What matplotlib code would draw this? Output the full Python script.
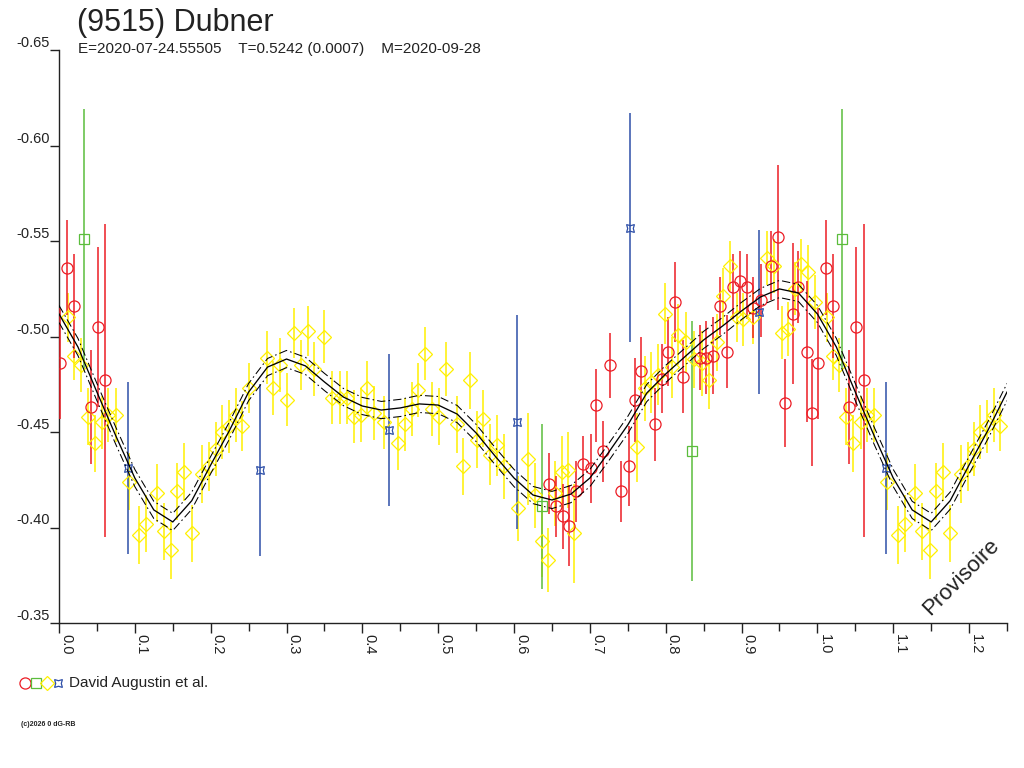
import matplotlib
matplotlib.use("Agg")
import matplotlib.pyplot as plt
import numpy as np

plt.rcParams['font.family'] = ['Liberation Sans', 'DejaVu Sans']

# light curve data, phase / magnitude / error
red_phase = [0.001, 0.011, 0.020, 0.042, 0.051, 0.061, 0.646, 0.655, 0.665, 0.673,
             0.682, 0.691, 0.702, 0.708, 0.717, 0.727, 0.741, 0.752, 0.760, 0.768,
             0.786, 0.795, 0.803, 0.812, 0.823, 0.845, 0.853, 0.862, 0.872, 0.881,
             0.889, 0.898, 0.907, 0.915, 0.926, 0.939, 0.948, 0.957, 0.968, 0.975,
             0.986, 0.993]
red_mag = [-0.486, -0.536, -0.516, -0.463, -0.505, -0.477, -0.423, -0.411, -0.406, -0.401,
           -0.419, -0.433, -0.431, -0.464, -0.440, -0.485, -0.419, -0.432, -0.467, -0.482,
           -0.454, -0.478, -0.492, -0.518, -0.479, -0.489, -0.489, -0.490, -0.516, -0.492,
           -0.526, -0.529, -0.526, -0.515, -0.519, -0.537, -0.552, -0.465, -0.512, -0.526,
           -0.492, -0.460]
red_err = [0.029, 0.025, 0.027, 0.030, 0.042, 0.082, 0.016, 0.016, 0.017, 0.021,
           0.016, 0.015, 0.018, 0.019, 0.016, 0.017, 0.016, 0.021, 0.022, 0.018,
           0.019, 0.018, 0.018, 0.021, 0.019, 0.017, 0.019, 0.020, 0.015, 0.019,
           0.017, 0.016, 0.017, 0.016, 0.019, 0.018, 0.038, 0.023, 0.037, 0.019,
           0.037, 0.028]

yellow_phase = [0.012, 0.020, 0.029, 0.038, 0.047, 0.057, 0.065, 0.075, 0.092, 0.106,
                0.115, 0.129, 0.138, 0.148, 0.156, 0.165, 0.175, 0.189, 0.198, 0.207,
                0.215, 0.224, 0.233, 0.241, 0.251, 0.274, 0.282, 0.291, 0.301, 0.310,
                0.319, 0.328, 0.336, 0.349, 0.360, 0.371, 0.380, 0.389, 0.398, 0.406,
                0.415, 0.429, 0.447, 0.456, 0.466, 0.473, 0.483, 0.492, 0.501, 0.510,
                0.525, 0.533, 0.542, 0.551, 0.559, 0.568, 0.578, 0.587, 0.605, 0.618,
                0.628, 0.637, 0.645, 0.654, 0.663, 0.671, 0.679, 0.762, 0.773, 0.781,
                0.790, 0.799, 0.808, 0.816, 0.827, 0.837, 0.848, 0.857, 0.868, 0.876,
                0.885, 0.894, 0.902, 0.915, 0.934, 0.943, 0.953, 0.961, 0.971, 0.979,
                0.988, 0.997]
yellow_mag = [-0.510, -0.490, -0.485, -0.458, -0.444, -0.455, -0.459, -0.459, -0.424, -0.396,
              -0.402, -0.418, -0.398, -0.388, -0.419, -0.429, -0.397, -0.428, -0.432, -0.441,
              -0.450, -0.453, -0.459, -0.453, -0.473, -0.489, -0.473, -0.485, -0.467, -0.502,
              -0.485, -0.503, -0.483, -0.500, -0.468, -0.468, -0.468, -0.458, -0.459, -0.473,
              -0.460, -0.455, -0.444, -0.454, -0.462, -0.472, -0.491, -0.462, -0.458, -0.483,
              -0.454, -0.432, -0.477, -0.446, -0.457, -0.438, -0.443, -0.432, -0.410, -0.436,
              -0.417, -0.393, -0.383, -0.418, -0.429, -0.430, -0.397, -0.442, -0.473, -0.476,
              -0.480, -0.512, -0.484, -0.501, -0.497, -0.488, -0.486, -0.477, -0.497, -0.521,
              -0.537, -0.510, -0.509, -0.510, -0.541, -0.537, -0.502, -0.504, -0.525, -0.538,
              -0.534, -0.518]
yellow_err = [0.013, 0.013, 0.014, 0.015, 0.015, 0.014, 0.014, 0.014, 0.015, 0.015,
              0.015, 0.015, 0.015, 0.015, 0.015, 0.015, 0.015, 0.015, 0.013, 0.014,
              0.014, 0.014, 0.014, 0.013, 0.013, 0.014, 0.014, 0.014, 0.014, 0.013,
              0.013, 0.013, 0.014, 0.014, 0.014, 0.014, 0.014, 0.014, 0.014, 0.014,
              0.014, 0.014, 0.014, 0.014, 0.014, 0.014, 0.014, 0.014, 0.015, 0.014,
              0.015, 0.015, 0.015, 0.015, 0.015, 0.016, 0.016, 0.017, 0.017, 0.024,
              0.017, 0.019, 0.017, 0.017, 0.019, 0.020, 0.026, 0.018, 0.017, 0.016,
              0.016, 0.016, 0.016, 0.016, 0.016, 0.015, 0.017, 0.015, 0.015, 0.015,
              0.013, 0.013, 0.014, 0.014, 0.014, 0.014, 0.014, 0.014, 0.014, 0.013,
              0.014, 0.014]

green_phase = [0.033, 0.637, 0.835]
green_mag = [-0.551, -0.411, -0.440]
green_err = [0.068, 0.043, 0.068]

blue_phase = [0.091, 0.265, 0.435, 0.604, 0.753, 0.923]
blue_mag = [-0.431, -0.430, -0.451, -0.455, -0.557, -0.513]
blue_err = [0.045, 0.045, 0.040, 0.056, 0.060, 0.043]

# fitted light curve, sampled every 0.025 in phase from 0 to 1
curve_mag = [-0.5118, -0.4945, -0.4709, -0.4479, -0.4259, -0.4092, -0.4029, -0.4140,
             -0.4327, -0.4510, -0.4709, -0.4840, -0.4882, -0.4846, -0.4762, -0.4683,
             -0.4636, -0.4615, -0.4626, -0.4647, -0.4641, -0.4594, -0.4495, -0.4374,
             -0.4259, -0.4170, -0.4144, -0.4175, -0.4259, -0.4395, -0.4537, -0.4704,
             -0.4804, -0.4893, -0.4982, -0.5055, -0.5134, -0.5207, -0.5249, -0.5228,
             -0.5118]
curve_band = 0.0045

x_ticks = [0.0, 0.1, 0.2, 0.3, 0.4, 0.5, 0.6, 0.7, 0.8, 0.9, 1.0, 1.1, 1.2]
y_ticks = [-0.65, -0.60, -0.55, -0.50, -0.45, -0.40, -0.35]

title = "(9515) Dubner"
subtitle = "E=2020-07-24.55505    T=0.5242 (0.0007)    M=2020-09-28"
observer = "David Augustin et al."

RED = '#ec1c24'
GREEN = '#5bbd3c'
YELLOW = '#fff000'
BLUE = '#2e4fa8'
INK = '#222222'


def wrap(phase, mag, err):
    # repeat the first quarter of the cycle after phase 1.0
    p = np.asarray(phase)
    m = np.asarray(mag)
    e = np.asarray(err)
    sel = p < 0.25
    return (np.concatenate([p, p[sel] + 1.0]),
            np.concatenate([m, m[sel]]),
            np.concatenate([e, e[sel]]))


fig = plt.figure(figsize=(10.24, 7.68), dpi=100)
ax = fig.add_axes([59 / 1024, 1 - 623 / 768, 948 / 1024, 573 / 768])

# curve
cm = np.asarray(curve_mag)
cp = np.linspace(0, 1, len(cm))
extra = cp[1:] <= 0.25
cp = np.concatenate([cp, cp[1:][extra] + 1.0])
cm = np.concatenate([cm, cm[1:][extra]])
ax.plot(cp, cm, color='black', lw=0.95, zorder=5)
ax.plot(cp, cm - curve_band, color='black', lw=0.75, ls=(0, (8, 3, 1.5, 3)), zorder=5)
ax.plot(cp, cm + curve_band, color='black', lw=0.75, ls=(0, (8, 3, 1.5, 3)), zorder=5)

series = [
    (yellow_phase, yellow_mag, yellow_err, YELLOW, 'D', 6.8),
    (red_phase, red_mag, red_err, RED, 'o', 8.0),
    (green_phase, green_mag, green_err, GREEN, 's', 6.5),
    (blue_phase, blue_mag, blue_err, BLUE, (4, 1, 45), 8.0),
]
for ph, mg, er, col, mk, ms in series:
    p, m, e = wrap(ph, mg, er)
    ax.errorbar(p, m, yerr=e, fmt='none', ecolor=col, elinewidth=1.1, capsize=0, zorder=3)
    ax.plot(p, m, ls='none', marker=mk, ms=ms, mfc='none', mec=col, mew=0.9, zorder=4)

ax.set_xlim(0, 1.25)
ax.set_ylim(-0.35, -0.65)

for s in ['top', 'right']:
    ax.spines[s].set_visible(False)
for s in ['left', 'bottom']:
    ax.spines[s].set_color(INK)
    ax.spines[s].set_linewidth(1.0)

ax.set_yticks(y_ticks)
ax.set_yticklabels(['%.2f' % v for v in y_ticks], fontsize=10.5, color=INK)
for t in ax.get_yticklabels():
    t.set_verticalalignment('bottom')
ax.tick_params(axis='y', direction='out', length=6.5, width=1.0, pad=0, color=INK)

ax.set_xticks(x_ticks)
ax.set_xticks(np.asarray(x_ticks) + 0.05, minor=True)
ax.set_xticklabels(['%.1f' % v for v in x_ticks], rotation=-90, ha='left', va='top',
                   fontsize=10.5, color=INK)
ax.tick_params(axis='x', which='major', direction='out', length=7, width=1.0, pad=1, color=INK)
ax.tick_params(axis='x', which='minor', direction='out', length=6, width=1.0, color=INK)

# titles
fig.text(77 / 1024, 1 - 31 / 768, title, fontsize=22, color=INK, va='baseline')
fig.text(78 / 1024, 1 - 53 / 768, subtitle, fontsize=11, color=INK, va='baseline')

# legend line at the bottom, drawn in pixel coordinates
lax = fig.add_axes([0, 0, 1, 1])
lax.set_xlim(0, 1024)
lax.set_ylim(768, 0)
lax.axis('off')
for x, col, mk, ms in [(25, RED, 'o', 8.0), (36, GREEN, 's', 6.5),
                       (47, YELLOW, 'D', 6.8), (58, BLUE, (4, 1, 45), 8.0)]:
    lax.plot([x], [683], ls='none', marker=mk, ms=ms, mfc='none', mec=col, mew=0.9)
lax.text(69, 683, observer, fontsize=11, color=INK, va='center', ha='left')
lax.text(21, 724, "(c)2026 0 dG-RB", fontsize=5, fontweight='bold', color=INK,
         va='center', ha='left')

ax.text(0.952, 0.08, "Provisoire", transform=ax.transAxes, rotation=45,
        fontsize=16, color=INK, ha='center', va='center')

fig.savefig('out.png', dpi=100)
